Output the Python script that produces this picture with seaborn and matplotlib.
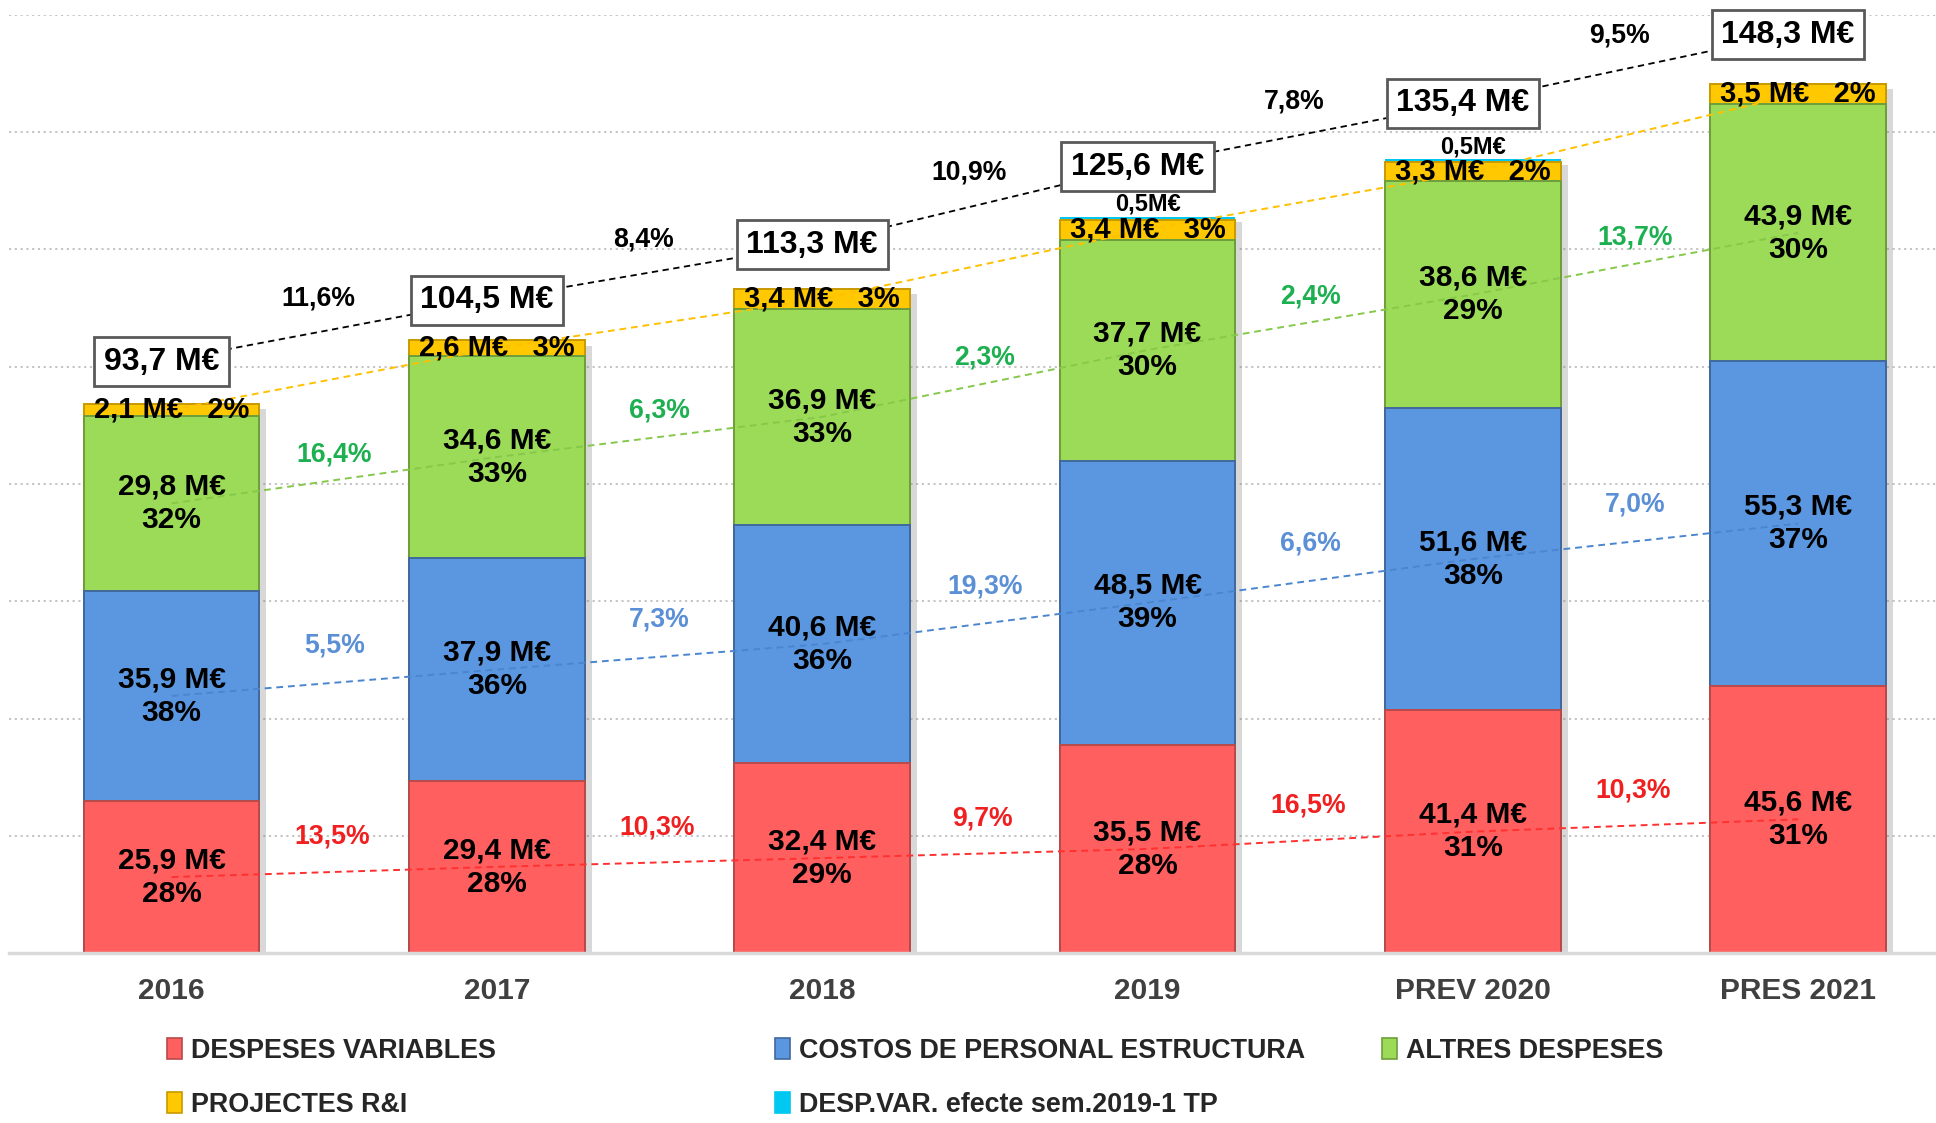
import numpy as np
import matplotlib
matplotlib.use('Agg')
import matplotlib.pyplot as plt
import matplotlib.patheffects as pe
from matplotlib.patches import Patch
import seaborn as sns

# ---------------- data ----------------
categories = ['2016', '2017', '2018', '2019', 'PREV 2020', 'PRES 2021']
despeses_variables = [25.9, 29.4, 32.4, 35.5, 41.4, 45.6]
costos_personal = [35.9, 37.9, 40.6, 48.5, 51.6, 55.3]
altres_despeses = [29.8, 34.6, 36.9, 37.7, 38.6, 43.9]
projectes_ri = [2.1, 2.6, 3.4, 3.4, 3.3, 3.5]
desp_var_sem = [0.0, 0.0, 0.0, 0.5, 0.5, 0.0]
totals = [93.7, 104.5, 113.3, 125.6, 135.4, 148.3]

pct_variables = [28, 28, 29, 28, 31, 31]
pct_personal = [38, 36, 36, 39, 38, 37]
pct_altres = [32, 33, 33, 30, 29, 30]
pct_projectes = [2, 3, 3, 3, 2, 2]

growth_total = ['11,6%', '8,4%', '10,9%', '7,8%', '9,5%']
growth_variables = ['13,5%', '10,3%', '9,7%', '16,5%', '10,3%']
growth_personal = ['5,5%', '7,3%', '19,3%', '6,6%', '7,0%']
growth_altres = ['16,4%', '6,3%', '2,3%', '2,4%', '13,7%']

legend_labels = ['DESPESES VARIABLES', 'COSTOS DE PERSONAL ESTRUCTURA', 'ALTRES DESPESES',
                 'PROJECTES R&I', 'DESP.VAR. efecte sem.2019-1 TP']

# ---------------- style ----------------
C_RED, E_RED = '#FF5F5F', '#B84A4A'
C_BLUE, E_BLUE = '#5B97E0', '#41689C'
C_GREEN, E_GREEN = '#9CDB57', '#6E9E3C'
C_YEL, E_YEL = '#FFC800', '#C89A00'
C_CYAN = '#00C8F0'
L_RED, L_BLUE, L_GREEN, L_YEL = '#FF3030', '#4A86D0', '#86C84A', '#FFC000'
T_RED, T_BLUE, T_GREEN = '#F02020', '#5B8FD6', '#1DB050'

W, H, DPI = 1936, 1123, 100
sns.set_theme(style='white')
plt.rcParams['font.family'] = ['Liberation Sans', 'DejaVu Sans']
plt.rcParams['font.weight'] = 'bold'

fig = plt.figure(figsize=(W / DPI, H / DPI), dpi=DPI)
ax_left_px, ax_bottom_px, ax_top_px = 9, 953, 15
ax = fig.add_axes([ax_left_px / W, (H - ax_bottom_px) / H, 1 - ax_left_px / W,
                   (ax_bottom_px - ax_top_px) / H])

YMAX = 160
XMIN, XMAX = -0.5, 5.424
BAR_W = 0.54

def fmt(v):
    return f'{v:.1f}'.replace('.', ',')

layers = [
    (despeses_variables, C_RED, E_RED),
    (costos_personal, C_BLUE, E_BLUE),
    (altres_despeses, C_GREEN, E_GREEN),
    (projectes_ri, C_YEL, E_YEL),
    (desp_var_sem, C_CYAN, C_CYAN),
]
vals = np.array([l[0] for l in layers])
cum = np.cumsum(vals, axis=0)

# draw cumulative bars back to front
for k in range(len(layers) - 1, -1, -1):
    n0 = len(ax.patches)
    _, col, ec = layers[k]
    sns.barplot(x=categories, y=cum[k], order=categories, color=col, saturation=1,
                width=BAR_W, edgecolor=ec, linewidth=1.4 if k < 4 else 0,
                errorbar=None, ax=ax, zorder=2)
    if k == len(layers) - 1:
        for p in ax.patches[n0:]:
            p.set_path_effects([pe.withSimplePatchShadow(offset=(5, -4), shadow_rgbFace='#7F7F7F', alpha=0.3),
                                pe.Normal()])

ax.set_xlim(XMIN, XMAX)
ax.set_ylim(0, YMAX)
ax.set_yticks(np.arange(0, YMAX + 1, 20))
ax.set_yticklabels([])
ax.tick_params(axis='y', length=0)
ax.set_axisbelow(True)
ax.yaxis.grid(True, linestyle=(0, (1.2, 2.0)), color='#BFBFBF', linewidth=1.3)
ax.xaxis.grid(False)
for s in ['top', 'right', 'left']:
    ax.spines[s].set_visible(False)
ax.spines['bottom'].set_color('#D9D9D9')
ax.spines['bottom'].set_linewidth(2.5)
ax.set_xlabel('')
ax.set_ylabel('')
ax.tick_params(axis='x', length=0, pad=17, labelsize=21.5, labelcolor='#404040')
for t in ax.get_xticklabels():
    t.set_fontweight('bold')

x = np.arange(len(categories))
centers = cum - vals / 2

# px -> data conversions
ax_h_px = ax_bottom_px - ax_top_px
ax_w_px = W - ax_left_px
py = YMAX / ax_h_px
px = (XMAX - XMIN) / ax_w_px

# trend lines through segment centres
dash = (0, (3.5, 2.5))
for k, lc in zip(range(4), [L_RED, L_BLUE, L_GREEN, L_YEL]):
    sns.lineplot(x=x, y=centers[k], color=lc, linewidth=1.4, linestyle=dash, ax=ax, zorder=4)

# segment labels
for k, pcts in zip(range(3), [pct_variables, pct_personal, pct_altres]):
    for i in range(len(categories)):
        ax.text(x[i], centers[k][i], f'{fmt(vals[k][i])} M€\n{pcts[i]}%', ha='center', va='center',
                fontsize=21.5, fontweight='bold', color='black', zorder=6, linespacing=1.25)
for i in range(len(categories)):
    ax.text(x[i], centers[3][i], f'{fmt(vals[3][i])} M€   {pct_projectes[i]}%', ha='center', va='center',
            fontsize=21, fontweight='bold', color='black', zorder=6)
    if vals[4][i] > 0:
        ax.annotate(f'{fmt(vals[4][i])}M€', xy=(x[i], totals[i]), xytext=(0, 1), textcoords='offset pixels',
                    ha='center', va='bottom', fontsize=17, fontweight='bold', color='black', zorder=6)

# totals boxes
box_dy_px = [42, 40, 44, 50, 56, 49]
box_x = x - 10 * px
box_y = np.array(totals) + np.array(box_dy_px) * py
sns.lineplot(x=box_x, y=box_y, color='black', linewidth=1.3, linestyle=dash, ax=ax, zorder=4, sort=False)
for i in range(len(categories)):
    ax.text(box_x[i], box_y[i], f'{fmt(totals[i])} M€', ha='center', va='center', fontsize=23,
            fontweight='bold', color='black', zorder=7,
            bbox=dict(boxstyle='square,pad=0.3', fc='white', ec='#595959', lw=2))

# growth labels
def growth(labels, ys, color, dx, dy, xs=None):
    xs = x if xs is None else xs
    for i, lab in enumerate(labels):
        mx = (xs[i] + xs[i + 1]) / 2
        my = (ys[i] + ys[i + 1]) / 2
        ax.annotate(lab, xy=(mx, my), xytext=(dx, dy), textcoords='offset pixels', ha='center',
                    va='center', fontsize=19.2, fontweight='bold', color=color, zorder=6,
                    annotation_clip=False)

growth(growth_total, box_y, 'black', -6, 33, xs=box_x)
growth(growth_variables, centers[0], T_RED, -2, 35)
growth(growth_personal, centers[1], T_BLUE, 0, 37)
growth(growth_altres, centers[2], T_GREEN, 0, 26)

# legends (three columns)
def handle(c, ec):
    return Patch(facecolor=c, edgecolor=ec, linewidth=1.2)

leg_kw = dict(loc='upper left', frameon=False, prop={'size': 19.4, 'weight': 'bold'}, handlelength=0.55,
              handleheight=0.85, handletextpad=0.35, labelspacing=1.02, borderpad=0, borderaxespad=0)
LEG_TOP = 1 - 1038 / H
l1 = fig.legend([handle(C_RED, E_RED), handle(C_YEL, E_YEL)], [legend_labels[0], legend_labels[3]],
                bbox_to_anchor=(167 / W, LEG_TOP), **leg_kw)
l2 = fig.legend([handle(C_BLUE, E_BLUE), handle(C_CYAN, C_CYAN)], [legend_labels[1], legend_labels[4]],
                bbox_to_anchor=(775 / W, LEG_TOP), **leg_kw)
l3 = fig.legend([handle(C_GREEN, E_GREEN)], [legend_labels[2]],
                bbox_to_anchor=(1382 / W, LEG_TOP), **leg_kw)

fig.savefig('out.png', dpi=DPI)
